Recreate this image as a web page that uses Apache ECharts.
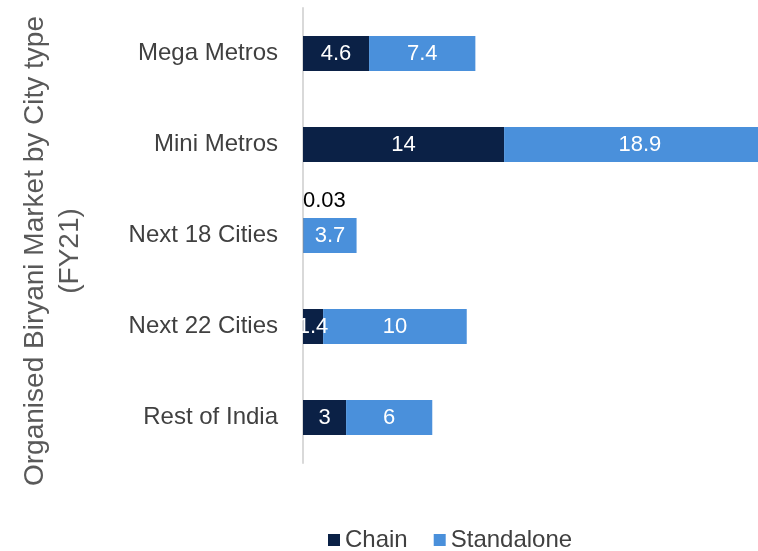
<!DOCTYPE html>
<html>
<head>
<meta charset="utf-8">
<script src="https://cdn.jsdelivr.net/npm/echarts@6/dist/echarts.min.js"></script>
<style>
  html, body { margin: 0; padding: 0; background: #fff; }
  #chart { width: 758px; height: 551px; }
</style>
</head>
<body>
<div id="chart"></div>
<script>
const cities = ['Mega Metros', 'Mini Metros', 'Next 18 Cities', 'Next 22 Cities', 'Rest of India'];
const chain = [4.6, 14, 0.03, 1.4, 3];
const standalone = [7.4, 18.9, 3.7, 10, 6];

const font = "'Liberation Sans Narrow', 'Arial Narrow', 'Liberation Sans', sans-serif";

let myChart = echarts.init(document.getElementById('chart'));
let option = {
  animation: false,
  textStyle: { fontFamily: font },
  grid: { left: 303, top: 8, bottom: 88, width: 474, outerBoundsMode: 'none' },
  legend: {
    top: 523,
    left: 323,
    icon: 'rect',
    itemWidth: 12,
    itemHeight: 12,
    itemGap: 26,
    textStyle: { fontFamily: font, fontSize: 24, color: '#404040' },
    data: ['Chain', 'Standalone']
  },
  graphic: [{
    type: 'text',
    x: 53,
    y: 251,
    rotation: Math.PI / 2,
    style: {
      text: 'Organised Biryani Market by City type\n(FY21)',
      fontFamily: font,
      fontSize: 28,
      lineHeight: 35,
      fill: '#595959',
      align: 'center',
      verticalAlign: 'middle'
    }
  }],
  xAxis: { type: 'value', min: 0, max: 33, show: false },
  yAxis: {
    type: 'category',
    inverse: true,
    data: cities,
    axisLine: { lineStyle: { color: '#d9d9d9', width: 2 } },
    axisTick: { show: false },
    axisLabel: { fontFamily: font, fontSize: 24, color: '#404040', margin: 25 }
  },
  series: [
    {
      name: 'Chain',
      type: 'bar',
      stack: 'total',
      barWidth: 35,
      itemStyle: { color: '#0b2146' },
      label: { show: true, position: 'inside', color: '#fff', fontSize: 22, fontFamily: font },
      data: chain.map(v => v < 0.5
        ? { value: v, label: { position: [0, -28], color: '#000', align: 'left' } }
        : v)
    },
    {
      name: 'Standalone',
      type: 'bar',
      stack: 'total',
      barWidth: 35,
      itemStyle: { color: '#4a90db' },
      label: { show: true, position: 'inside', color: '#fff', fontSize: 22, fontFamily: font },
      data: standalone
    }
  ]
};
option && myChart.setOption(option);
</script>
</body>
</html>
